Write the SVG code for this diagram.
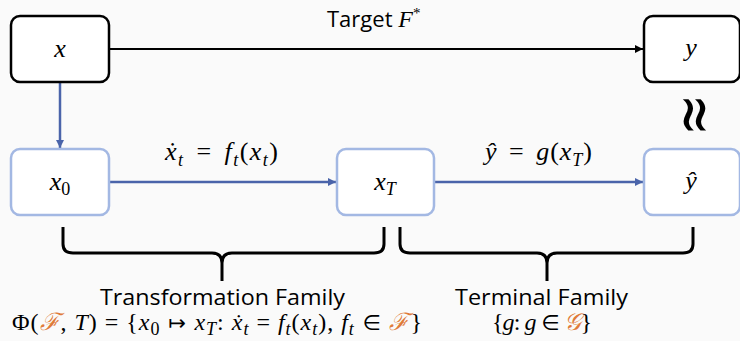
<svg xmlns="http://www.w3.org/2000/svg" width="740" height="341" viewBox="0 0 740 341">
<style>
.bg{fill:#fafafa}
.nodeK{fill:#fff;stroke:#000;stroke-width:2.5}
.nodeB{fill:#fff;stroke:#a3b8e3;stroke-width:2.5}
.m{font-family:"Liberation Serif","DejaVu Serif",serif;font-style:italic;font-size:26px;fill:#000}
.f{font-size:24px}
.up{font-style:normal}
.sub{font-size:18px}
.sym{font-family:"DejaVu Sans",sans-serif;font-style:normal;font-size:21px}
.s{font-family:"Open Sans","Noto Sans",sans-serif;font-size:22px;fill:#000}
.or{fill:#e07b39}
.brace{fill:none;stroke:#000;stroke-width:3;stroke-linejoin:round}
</style>
<defs>
<marker id="ak" viewBox="0 0 10 10" refX="10" refY="5" markerWidth="10" markerHeight="8" markerUnits="userSpaceOnUse" orient="auto"><path d="M0,0 L10,5 L0,10 z" fill="#000"/></marker>
<marker id="ab" viewBox="0 0 10 10" refX="10" refY="5" markerWidth="10" markerHeight="8" markerUnits="userSpaceOnUse" orient="auto"><path d="M0,0 L10,5 L0,10 z" fill="#4a64aa"/></marker>
</defs>
<rect class="bg" x="0" y="0" width="740" height="341"/>
<g id="connectors">
<line x1="110" y1="49" x2="643" y2="49" stroke="#000" stroke-width="2.2" marker-end="url(#ak)"/>
<line x1="60" y1="83" x2="60" y2="148" stroke="#4a64aa" stroke-width="2.5" marker-end="url(#ab)"/>
<line x1="110" y1="182" x2="336" y2="182" stroke="#4a64aa" stroke-width="2.5" marker-end="url(#ab)"/>
<line x1="435" y1="182" x2="643" y2="182" stroke="#4a64aa" stroke-width="2.5" marker-end="url(#ab)"/>
<text class="s" x="327" y="27">Target <tspan class="m" style="font-size:24px">F</tspan><tspan class="m up" style="font-size:15px" dy="-9">*</tspan></text>
<text class="m" x="165" y="160" textLength="113" lengthAdjust="spacing">ẋ<tspan class="sub" dy="6">t</tspan><tspan class="up" dy="-6" dx="4"> = </tspan><tspan dx="4">f</tspan><tspan class="sub" dy="6">t</tspan><tspan class="up" dy="-6">(</tspan>x<tspan class="sub" dy="6">t</tspan><tspan class="up" dy="-6">)</tspan></text>
<text class="m" x="485" y="160" textLength="107" lengthAdjust="spacing">ŷ<tspan class="up" dx="4"> = </tspan><tspan dx="4">g</tspan><tspan class="up">(</tspan>x<tspan class="sub" dy="6">T</tspan><tspan class="up" dy="-6">)</tspan></text>
<text style="font-family:'DejaVu Sans',sans-serif;font-size:50px" transform="translate(696,115) rotate(90) scale(1,1.3)" text-anchor="middle" dominant-baseline="central">≈</text>
</g>
<g id="node-x"><rect class="nodeK" x="11" y="16" width="98" height="66" rx="9"/><text class="m" x="60" y="57" text-anchor="middle">x</text></g>
<g id="node-y"><rect class="nodeK" x="644" y="16" width="96" height="66" rx="9"/><text class="m" x="691" y="56" text-anchor="middle">y</text></g>
<g id="node-x0"><rect class="nodeB" x="11" y="149" width="98" height="66" rx="9"/><text class="m" x="60" y="190" text-anchor="middle">x<tspan class="sub up" dy="5">0</tspan></text></g>
<g id="node-xT"><rect class="nodeB" x="337" y="149" width="97" height="66" rx="9"/><text class="m" x="385" y="190" text-anchor="middle">x<tspan class="sub" dy="5">T</tspan></text></g>
<g id="node-yhat"><rect class="nodeB" x="644" y="149" width="96" height="66" rx="9"/><text class="m" x="691" y="189" text-anchor="middle">ŷ</text></g>
<g id="brace-transformation">
<path class="brace" d="M63,227 L63,244 Q63,253 73,253 L212,253 Q222,253 222,263 L222,281 M222,263 Q222,253 232,253 L374,253 Q384,253 384,244 L384,227"/>
<text class="s" x="100" y="305" textLength="245" lengthAdjust="spacingAndGlyphs">Transformation Family</text>
<text class="m f" x="12" y="330" textLength="410" lengthAdjust="spacing"><tspan class="up">Φ(</tspan><tspan class="or">ℱ</tspan><tspan class="up">, </tspan>T<tspan class="up">) = {</tspan>x<tspan class="up sub" dy="5">0</tspan><tspan class="sym" dy="-5"> ↦ </tspan>x<tspan class="sub" dy="5">T</tspan><tspan class="up" dy="-5">: </tspan>ẋ<tspan class="sub" dy="5">t</tspan><tspan class="up" dy="-5"> = </tspan>f<tspan class="sub" dy="5">t</tspan><tspan class="up" dy="-5">(</tspan>x<tspan class="sub" dy="5">t</tspan><tspan class="up" dy="-5">), </tspan>f<tspan class="sub" dy="5">t</tspan><tspan class="sym" dy="-5"> ∈ </tspan><tspan class="or">ℱ</tspan><tspan class="up">}</tspan></text>
</g>
<g id="brace-terminal">
<path class="brace" d="M400,227 L400,244 Q400,253 410,253 L537,253 Q547,253 547,263 L547,281 M547,263 Q547,253 557,253 L683,253 Q693,253 693,244 L693,227"/>
<text class="s" x="455" y="305" textLength="173" lengthAdjust="spacingAndGlyphs">Terminal Family</text>
<text class="m f" x="492" y="330" textLength="100" lengthAdjust="spacing"><tspan class="up">{</tspan>g<tspan class="up">: </tspan>g<tspan class="sym"> ∈ </tspan><tspan class="or">𝒢</tspan><tspan class="up">}</tspan></text>
</g>
</svg>
